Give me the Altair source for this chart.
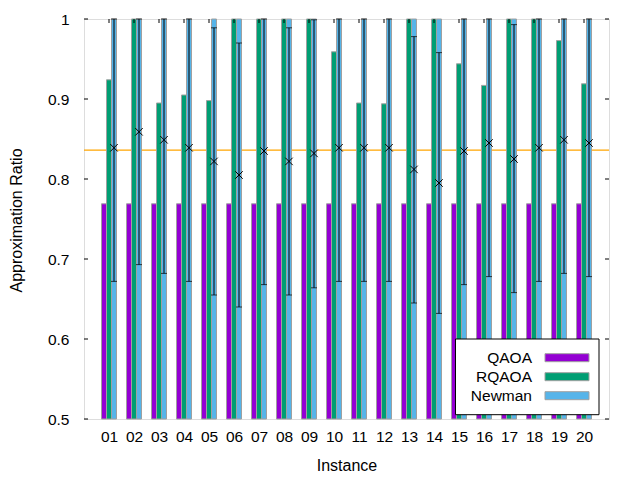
import altair as alt
import pandas as pd

# ---- data ----
instances = list(range(1, 21))
series_names = ["QAOA", "RQAOA", "Newman"]
qaoa = [0.769, 0.769, 0.769, 0.769, 0.769, 0.769, 0.769, 0.769, 0.769, 0.769,
        0.769, 0.769, 0.769, 0.769, 0.769, 0.769, 0.769, 0.769, 0.769, 0.769]
rqaoa = [0.924, 1.0, 0.895, 0.905, 0.898, 1.0, 1.0, 1.0, 1.0, 0.959,
         0.895, 0.894, 1.0, 1.0, 0.944, 0.917, 1.0, 1.0, 0.973, 0.919]
newman = [1.0, 1.0, 1.0, 1.0, 1.0, 1.0, 1.0, 1.0, 1.0, 1.0,
          1.0, 1.0, 1.0, 1.0, 1.0, 1.0, 1.0, 1.0, 1.0, 1.0]
newman_mean = [0.839, 0.859, 0.849, 0.839, 0.822, 0.805, 0.835, 0.822, 0.832, 0.839,
               0.839, 0.839, 0.812, 0.795, 0.835, 0.845, 0.825, 0.839, 0.849, 0.845]
newman_high = [1.0, 1.0, 1.0, 1.0, 0.989, 0.970, 1.0, 0.989, 0.999, 1.0,
               1.0, 1.0, 0.978, 0.958, 1.0, 1.0, 0.993, 1.0, 1.0, 1.0]
newman_low = [0.672, 0.693, 0.682, 0.672, 0.655, 0.640, 0.668, 0.655, 0.664, 0.672,
              0.672, 0.672, 0.645, 0.632, 0.668, 0.678, 0.658, 0.672, 0.682, 0.678]
reference_line = [0.836]
y_tick_values = [0.5, 0.6, 0.7, 0.8, 0.9, 1.0]
colors = ["#9400d3", "#009e73", "#56b4e9"]

FONT = "Liberation Sans"
W, H = 525, 400
LABEL_FS = 15.5
TITLE_FS = 16

rows = []
for s, vals in zip(series_names, [qaoa, rqaoa, newman]):
    for i, v in zip(instances, vals):
        rows.append({"inst": i, "series": s, "value": v})
bars_df = pd.DataFrame(rows)
err_df = pd.DataFrame({"inst": instances, "mean": newman_mean,
                       "low": newman_low, "high": newman_high})
line_df = pd.DataFrame({"v": reference_line})
yt_df = pd.DataFrame({"v": y_tick_values})
xt_df = pd.DataFrame({"inst": instances})
legend_df = pd.DataFrame({"series": series_names})
box_df = pd.DataFrame({"k": [0]})

xscale = alt.Scale(domain=[0, 21], nice=False, zero=False)
yscale = alt.Scale(domain=[0.5, 1.0], nice=False, zero=False)
cscale = alt.Scale(domain=series_names, range=colors)

x_axis = alt.Axis(
    values=instances,
    labelExpr="datum.value < 10 ? '0' + datum.value : '' + datum.value",
    ticks=False, tickSize=0, domain=False, grid=False, labelOverlap=False,
    labelPadding=10, labelFontSize=LABEL_FS, labelFont=FONT, labelColor="black",
    title="Instance", titleFontSize=TITLE_FS, titleFont=FONT, titleFontWeight="normal",
    titleColor="black", titleY=46, titleBaseline="middle",
)
y_axis = alt.Axis(
    values=y_tick_values, format=".1~f",
    ticks=False, tickSize=0, domain=False, grid=False, labelOverlap=False,
    labelPadding=15, labelFontSize=LABEL_FS, labelFont=FONT, labelColor="black",
    title="Approximation Ratio", titleFontSize=TITLE_FS, titleFont=FONT,
    titleFontWeight="normal", titleColor="black",
    titleX=-68, titleY=201, titleAngle=270, titleAlign="center",
    titleBaseline="middle",
)

def X(field):
    return alt.X(field, scale=xscale, axis=x_axis)

def Y(field):
    return alt.Y(field, scale=yscale, axis=y_axis)

ref = alt.Chart(line_df).mark_rule(color="#ffa500", strokeWidth=1.3).encode(
    y=Y("v:Q")
)

bars = alt.Chart(bars_df).transform_calculate(
    off="datum.series == 'QAOA' ? -0.2 : (datum.series == 'RQAOA' ? 0 : 0.2)"
).transform_calculate(
    x1="datum.inst + datum.off - 0.1", x2="datum.inst + datum.off + 0.1"
).mark_bar(stroke="#a0a0a0", strokeWidth=1).encode(
    x=X("x1:Q"),
    x2="x2:Q",
    y=Y("value:Q"),
    y2=alt.datum(0.5),
    color=alt.Color("series:N", scale=cscale, legend=None),
)

err_base = alt.Chart(err_df).transform_calculate(xp="datum.inst + 0.2")
err_rule = err_base.mark_rule(color="black", strokeWidth=1).encode(
    x=X("xp:Q"), y=Y("low:Q"), y2="high:Q"
)
cap_low = err_base.mark_tick(orient="horizontal", size=6, thickness=1, color="black").encode(
    x=X("xp:Q"), y=Y("low:Q")
)
cap_high = err_base.mark_tick(orient="horizontal", size=6, thickness=1, color="black").encode(
    x=X("xp:Q"), y=Y("high:Q")
)
means = err_base.mark_point(
    shape="M-1,-1L1,1M-1,1L1,-1", filled=False, color="black", strokeWidth=1,
    size=56, opacity=1,
).encode(x=X("xp:Q"), y=Y("mean:Q"))

left_ticks = alt.Chart(yt_df).mark_rule(color="black").encode(
    y=Y("v:Q"), x=alt.value(0), x2=alt.value(4)
)
right_ticks = alt.Chart(yt_df).mark_rule(color="black").encode(
    y=Y("v:Q"), x=alt.value(W - 4), x2=alt.value(W)
)
top_ticks = alt.Chart(xt_df).mark_rule(color="black").encode(
    x=X("inst:Q"), y=alt.value(0), y2=alt.value(4)
)

main = alt.layer(
    ref, bars, err_rule, cap_low, cap_high, means, left_ticks, right_ticks, top_ticks
)

# ---- key box (gnuplot style: label left, swatch right) ----
lscale = alt.Scale(type="point", domain=series_names, range=[338.7, 376.7], padding=0)
key_box = alt.Chart(box_df).mark_rect(fill="white", stroke="black", strokeWidth=1).encode(
    x=alt.value(371.5), x2=alt.value(515), y=alt.value(320), y2=alt.value(395.7)
)
key_swatch = alt.Chart(legend_df).mark_tick(
    orient="horizontal", size=44, thickness=8, stroke="#a0a0a0", strokeWidth=1, opacity=1
).encode(
    x=alt.value(483),
    y=alt.Y("series:N", scale=lscale, axis=None),
    color=alt.Color("series:N", scale=cscale, legend=None),
)
key_text = alt.Chart(legend_df).mark_text(
    align="right", baseline="middle", fontSize=LABEL_FS, font=FONT, color="black"
).encode(
    x=alt.value(448),
    y=alt.Y("series:N", scale=lscale, axis=None),
    text="series:N",
)
key = alt.layer(key_box, key_swatch, key_text)

chart = alt.layer(main, key).resolve_scale(
    y="independent"
).resolve_axis(y="independent").properties(
    width=W, height=H,
    autosize=alt.AutoSizeParams(type="none"),
    padding={"left": 76, "top": 11, "right": 15, "bottom": 53},
).configure_view(
    stroke="black", strokeWidth=1
).configure_axis(
    labelOverlap=False
).configure_axisX(
    labelOverlap=False
).configure(
    font=FONT, background="white"
)

chart.save("out.html", embed_options={"renderer": "svg", "actions": False})
